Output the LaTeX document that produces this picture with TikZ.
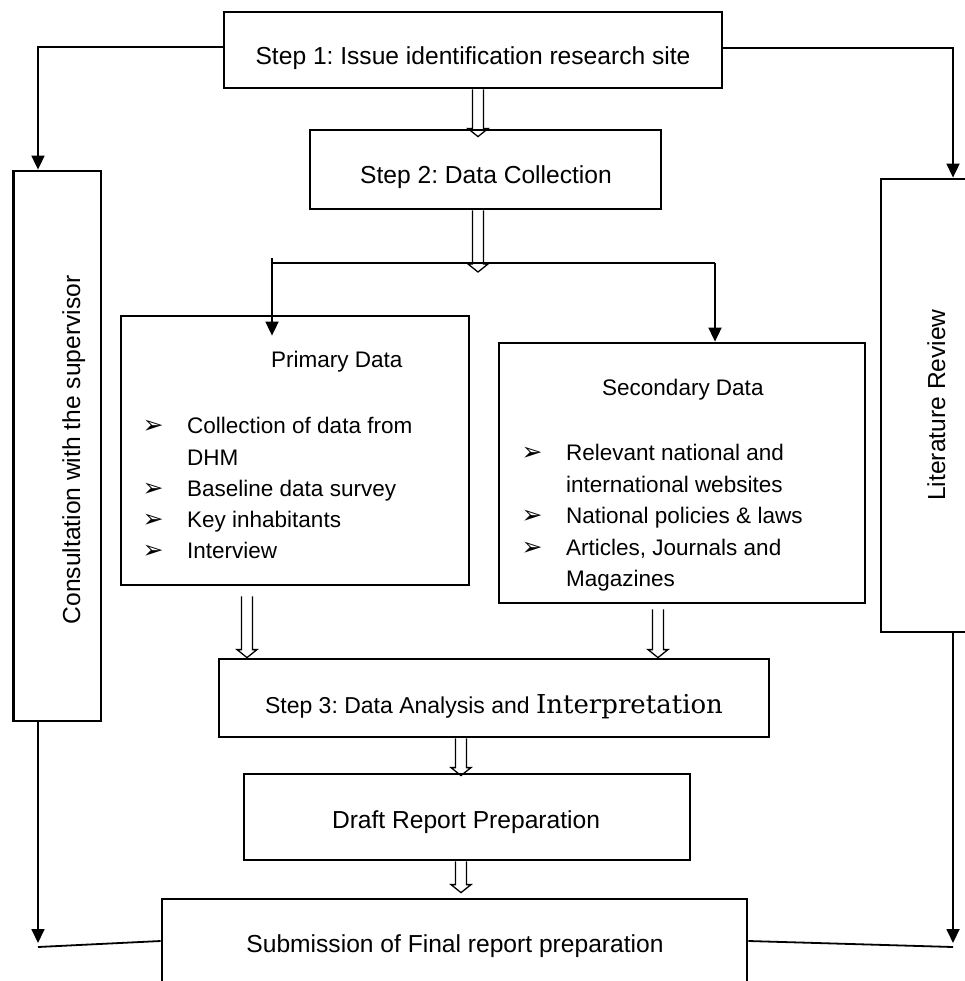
\documentclass[tikz,border=0pt]{standalone}
\usepackage{fontspec}
\setmainfont{Liberation Sans}
\newfontfamily\dingfont{DejaVu Sans}
\newfontfamily\cambfont{DejaVu Serif}
\usetikzlibrary{arrows.meta,calc}
\frenchspacing
\tikzset{
  box/.style={draw, line width=2.8pt, inner sep=0pt, fill=none},
  conn/.style={line width=1.8pt},
  arr/.style={line width=1.8pt, -{Triangle[width=13pt,length=14pt]}},
  hol/.style={line width=1.3pt, line join=miter},
  steptxt/.style={inner sep=0pt, anchor=base, font=\fontsize{24.6}{30}\selectfont},
  listtxt/.style={inner sep=0pt, anchor=base west, font=\fontsize{22.5}{31}\selectfont},
  bul/.style={inner sep=0pt, anchor=base, font=\dingfont\fontsize{25}{28}\selectfont},
}
\newcommand\hollowarrow[2]{%
  \draw[hol] let \p1=#1, \p2=#2 in
    (\x1-5.5pt,\y1) -- (\x1-5.5pt,\y2+8pt) -- (\x1-10pt,\y2+8pt) -- (\x1,\y2)
    -- (\x1+10pt,\y2+8pt) -- (\x1+5.5pt,\y2+8pt) -- (\x1+5.5pt,\y1);}
\begin{document}
\begin{tikzpicture}[x=1pt,y=-1pt]
\useasboundingbox[fill=white] (0,0) rectangle (964,981);

% boxes
\node[box, minimum width=498pt, minimum height=76pt] (s1) at (473,50) {};
\node[box, minimum width=351pt, minimum height=79pt] (s2) at (485.5,169.5) {};
\node[box, minimum width=87.5pt, minimum height=550pt] (cons) at (57.25,446) {};
\node[box, minimum width=119pt, minimum height=453pt] (lit) at (940.5,405.5) {};
\node[box, minimum width=348pt, minimum height=269pt] (prim) at (295,450.5) {};
\node[box, minimum width=366pt, minimum height=260pt] (sec) at (682,473) {};
\node[box, minimum width=550pt, minimum height=78pt] (s3) at (494,698) {};
\node[box, minimum width=446pt, minimum height=86pt] (draft) at (467,817) {};
\node[box, minimum width=585pt, minimum height=101pt] (sub) at (454.5,949.5) {};

% texts
\node[steptxt] (t1) at (473,65) {Step 1: Issue identification research site};
\node[steptxt] (t2) at (486,184) {Step 2: Data Collection};
\node[steptxt, font=\fontsize{23}{30}\selectfont] (t3) at (494,713) {Step 3: Data Analysis and {\cambfont\fontsize{26}{30}\selectfont Interpretation}};
\node[steptxt] (t4) at (466,828) {Draft Report Preparation};
\node[steptxt] (t5) at (455,952) {Submission of Final report preparation};
\node[steptxt, rotate=90] (tc) at (80,450) {Consultation with the supervisor};
\node[steptxt, rotate=90] (tl) at (945,405) {Literature Review};

\node[listtxt] (pt) at (271,367) {Primary Data};
\node[bul] (pb1) at (153,433) {➢};
\node[listtxt] (p1) at (187,433) {Collection of data from};
\node[listtxt] (p1b) at (187,465) {DHM};
\node[bul] (pb2) at (153,496) {➢};
\node[listtxt] (p2) at (187,496) {Baseline data survey};
\node[bul] (pb3) at (153,527) {➢};
\node[listtxt] (p3) at (187,527) {Key inhabitants};
\node[bul] (pb4) at (153,558) {➢};
\node[listtxt] (p4) at (187,558) {Interview};

\node[listtxt] (st) at (602,395) {Secondary Data};
\node[bul] (sb1) at (532,460) {➢};
\node[listtxt] (s1a) at (566,460) {Relevant national and};
\node[listtxt] (s1b) at (566,492) {international websites};
\node[bul] (sb2) at (532,523) {➢};
\node[listtxt] (s2a) at (566,523) {National policies \& laws};
\node[bul] (sb3) at (532,555) {➢};
\node[listtxt] (s3a) at (566,555) {Articles, Journals and};
\node[listtxt] (s3b) at (566,586) {Magazines};

% side connectors
\draw[arr] ([yshift=3pt]s1.west) -| ([xshift=-19.25pt]cons.north);
\draw[arr] ([yshift=2pt]s1.east) -| ([xshift=12.5pt]lit.north);

% branch to primary / secondary
\coordinate (bl) at (272,263);
\coordinate (br) at (715,263);
\coordinate (bm) at (478,272);
\draw[conn] (bl) -- (br);
\draw[arr] ([yshift=5pt]bl) -- ($(prim.north -| bl)+(0,21)$);
\draw[arr] (br) -- (sec.north -| br);

% bottom side connectors
\coordinate (cl) at (38,947);
\coordinate (cr) at (953,947);
\draw[arr] ([xshift=-19.25pt]cons.south) -- ($(cl)+(0,-4)$);
\draw[conn] (cl) -- ([yshift=8.5pt]sub.west);
\draw[arr] ([xshift=12.5pt]lit.south) -- ($(cr)+(0,-4)$);
\draw[conn] (cr) -- ([yshift=8.5pt]sub.east);

% hollow arrows
\hollowarrow{([xshift=5pt]s1.south)}{([yshift=-8pt]s2.north)}
\hollowarrow{([xshift=-7.5pt]s2.south)}{(bm)}
\hollowarrow{([xshift=-48pt,yshift=-10pt]prim.south)}{(s3.north)}
\hollowarrow{([xshift=-24pt,yshift=-5pt]sec.south)}{(s3.north)}
\hollowarrow{([xshift=-33pt]s3.south)}{([yshift=-3pt]draft.north)}
\hollowarrow{([xshift=-6pt]draft.south)}{([yshift=5pt]sub.north)}
\end{tikzpicture}
\end{document}
